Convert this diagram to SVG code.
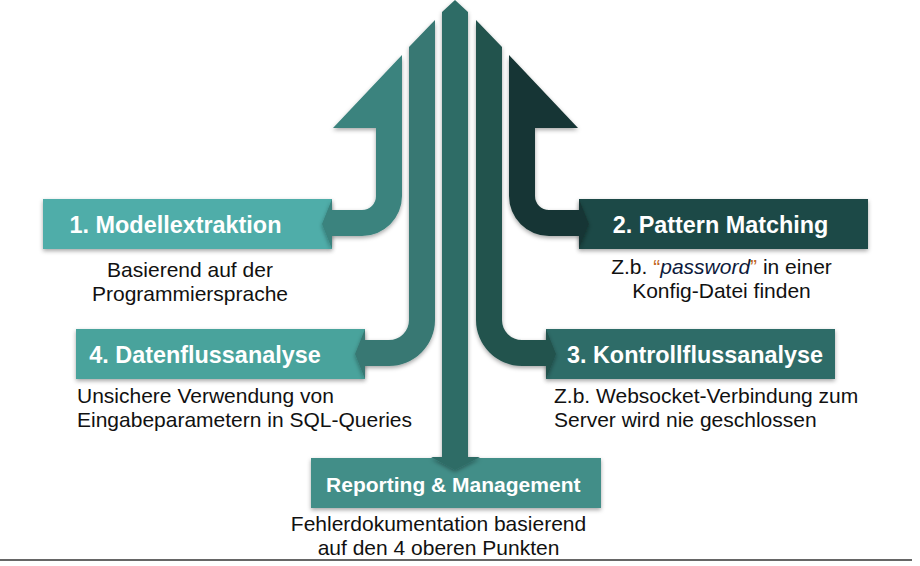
<svg xmlns="http://www.w3.org/2000/svg" width="920" height="566" viewBox="0 0 920 566">
<defs>
<filter id="sh" x="-10%" y="-10%" width="120%" height="130%">
<feDropShadow dx="0" dy="2" stdDeviation="2" flood-color="#000" flood-opacity="0.35"/>
</filter>
</defs>
<style>
.head{font-family:"Liberation Sans",Arial,sans-serif;font-weight:bold;font-size:23.4px;fill:#fff;text-anchor:middle}
.body{font-family:"Liberation Sans",Arial,sans-serif;font-size:21px;fill:#111}
.mid{text-anchor:middle}
</style>
<rect width="920" height="566" fill="#fff"/>
<g id="node-1">
<rect x="43" y="199" width="289" height="50" fill="#4FADA9" filter="url(#sh)"/>
<text class="head" x="175.5" y="233">1. Modellextraktion</text>
<text class="body mid" x="190" y="277">Basierend auf der</text>
<text class="body mid" x="190" y="301">Programmiersprache</text>
</g>
<g id="node-2">
<rect x="579" y="199" width="289" height="50" fill="#1F4A47" filter="url(#sh)"/>
<text class="head" x="720.5" y="233">2. Pattern Matching</text>
<text class="body mid" x="721.5" y="274">Z.b. <tspan fill="#C2661F">“</tspan><tspan font-style="italic" fill="#0E1A3C">password</tspan><tspan fill="#C2661F">”</tspan> in einer</text>
<text class="body mid" x="721.5" y="298">Konfig-Datei finden</text>
</g>
<g id="node-4">
<rect x="76" y="329" width="289" height="50" fill="#4AA39C" filter="url(#sh)"/>
<text class="head" x="205" y="363">4. Datenflussanalyse</text>
<text class="body" x="77" y="403">Unsichere Verwendung von</text>
<text class="body" x="77" y="427">Eingabeparametern in SQL-Queries</text>
</g>
<g id="node-3">
<rect x="546" y="329" width="289" height="50" fill="#2F6C67" filter="url(#sh)"/>
<text class="head" x="695" y="363">3. Kontrollflussanalyse</text>
<text class="body" x="554" y="403">Z.b. Websocket-Verbindung zum</text>
<text class="body" x="554" y="427">Server wird nie geschlossen</text>
</g>
<g id="node-report">
<rect x="311" y="458" width="290" height="50" fill="#428E88" filter="url(#sh)"/>
<text class="head" style="font-size:21px" x="453.3" y="492">Reporting &amp; Management</text>
<text class="body mid" x="438.5" y="531">Fehlerdokumentation basierend</text>
<text class="body mid" x="438.5" y="555">auf den 4 oberen Punkten</text>
</g>
<g id="connectors" filter="url(#sh)">
<path fill="#3A837E" d="M402 55 L402 196 A40 40 0 0 1 362 236 L332 236 L332 249 L322 224 L332 199 L332 210 L362 210 A14 14 0 0 0 376 196 L376 128 L333 128 Z"/>
<path fill="#387873" d="M409 47 L435 20 L435 320 A46 46 0 0 1 389 366 L365 366 L365 379 L355 354 L365 329 L365 340 L389 340 A20 20 0 0 0 409 320 Z"/>
<path fill="#2F6C66" d="M455 0 L468 12 L468 457 L480 457 L455 470 L431 457 L442 457 L442 12 Z"/>
<path fill="#22524D" d="M476 20 L502 47 L502 320 A20 20 0 0 0 522 340 L546 340 L546 329 L556 354 L546 379 L546 366 L522 366 A46 46 0 0 1 476 320 Z"/>
<path fill="#163634" d="M509 55 L578 128 L535 128 L535 196 A14 14 0 0 0 549 210 L579 210 L579 199 L589 224 L579 249 L579 236 L549 236 A40 40 0 0 1 509 196 Z"/>
</g>
<line x1="0" y1="560" x2="912" y2="560" stroke="#333" stroke-width="1.5"/>
</svg>
